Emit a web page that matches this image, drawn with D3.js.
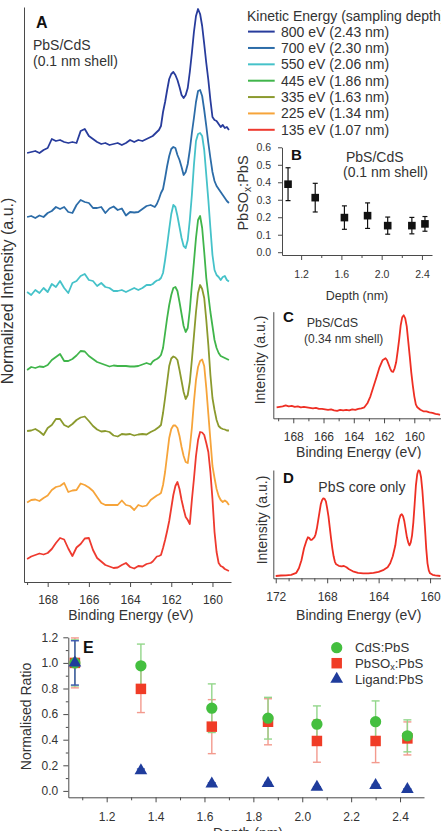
<!DOCTYPE html>
<html><head><meta charset="utf-8">
<script src="https://cdn.jsdelivr.net/npm/d3@7"></script>
<style>
body{margin:0;background:#fff;overflow:hidden}
svg{display:block}
</style></head>
<body><svg id="chart" width="441" height="831"></svg>
<script>
// ---------------- DATA ----------------
// Panel A: binding energy grid (eV) and stacked spectra (offset a.u.)
const bindingEnergyA = [169.0,168.8,168.6,168.4,168.2,168.0,167.8,167.6,167.4,167.2,167.0,166.8,166.6,166.4,166.2,166.0,165.8,165.6,165.4,165.2,165.0,164.8,164.6,164.4,164.2,164.0,163.8,163.6,163.4,163.2,
163.0,162.9,162.8,162.7,162.6,162.5,162.4,162.3,162.2,162.1,162.0,161.9,161.8,161.7,161.6,161.5,161.4,161.3,161.2,161.1,161.0,160.9,160.8,160.7,160.6,160.5,160.4,160.3,160.2,160.1,160.0,159.9,159.8,159.7,159.6,159.5,159.4,159.3,159.2];
const spectrum800 = [42.9,43.0,43.1,42.9,43.2,43.4,44.3,44.1,44.2,44.0,43.9,44.0,43.9,45.1,45.3,44.6,44.3,44.0,43.8,43.9,43.7,43.8,43.9,43.7,43.9,44.2,44.0,44.2,44.1,44.3,
44.5,44.6,44.8,45.0,45.2,45.6,47.0,48.0,49.2,50.3,50.8,51.0,50.7,50.2,49.5,48.7,48.4,48.7,49.4,51.0,52.9,55.0,56.6,57.3,56.8,55.6,53.8,51.9,50.2,48.2,46.5,46.2,46.1,45.8,45.5,45.7,45.4,45.5,45.2];
const spectrum700 = [36.5,36.6,36.4,36.65,36.5,36.9,37.1,37.5,37.3,37.5,37.0,36.9,37.7,38.2,38.0,37.9,37.4,37.4,37.5,36.9,37.35,37.55,37.2,37.35,36.65,37.0,36.95,37.0,37.3,37.6,
37.7,37.6,37.5,37.8,38.3,38.9,39.3,40.4,41.6,42.6,43.3,43.5,43.4,42.7,42.2,41.5,40.7,41.0,41.8,43.2,44.9,46.4,48.0,49.1,49.2,48.6,47.2,45.6,43.9,42.4,41.0,40.1,39.6,39.3,39.0,38.7,38.4,38.1,37.9];
const spectrum550 = [29.0,28.7,29.2,28.9,29.4,29.0,29.8,29.5,30.1,29.4,28.9,29.9,30.1,30.6,30.8,30.2,30.1,29.6,29.9,29.5,29.4,29.1,29.1,29.2,29.0,29.2,29.4,29.2,29.4,29.7,
29.7,29.8,30.0,30.15,30.2,30.4,30.9,32.2,33.7,35.3,36.8,37.7,37.5,36.6,35.5,34.4,33.6,33.4,34.2,36.2,38.7,41.7,44.1,44.8,44.9,44.6,43.2,40.7,38.2,35.4,32.7,31.2,30.7,30.5,30.2,30.5,30.6,30.2,30.05];
const spectrum445 = [21.2,21.5,21.4,21.55,21.5,21.7,22.2,22.5,22.8,22.1,22.1,22.3,22.65,23.1,23.05,22.6,22.3,22.0,21.85,21.7,21.55,21.65,21.6,21.6,21.6,21.55,21.55,21.6,21.75,21.9,
21.75,22.05,22.2,22.3,22.45,22.7,23.4,24.9,26.4,27.7,28.7,29.4,29.5,29.1,28.0,26.8,25.6,25.0,25.4,27.2,29.7,32.0,34.4,36.2,36.6,35.4,33.0,30.4,28.7,27.0,25.6,24.2,23.4,22.9,22.6,22.5,22.4,22.3,22.2];
const spectrum335 = [15.1,15.15,15.3,15.05,14.7,15.4,15.7,16.3,16.3,15.7,15.5,15.8,16.2,16.45,16.55,16.1,15.6,15.25,15.05,15.1,15.0,14.65,14.55,14.8,14.75,14.8,14.65,14.75,14.8,14.75,
15.0,15.1,15.2,15.35,15.5,15.7,16.9,18.4,20.0,21.6,22.35,22.55,22.45,22.2,21.2,20.1,19.0,18.3,18.7,20.0,22.2,24.6,27.0,28.9,29.7,29.3,28.4,26.2,23.7,20.7,18.4,17.2,16.2,15.6,15.4,15.3,15.25,15.15,15.15];
const spectrum225 = [7.95,8.2,8.25,8.1,8.4,8.65,9.2,9.5,9.6,9.9,9.0,9.15,9.2,9.85,9.7,9.45,9.1,8.5,7.9,7.7,7.7,7.7,7.7,8.15,7.7,7.6,7.2,7.7,7.55,7.65,
8.2,8.35,8.5,8.65,8.75,8.9,9.7,11.0,12.7,14.4,15.3,15.65,15.65,15.4,14.6,13.5,12.6,12.0,11.9,13.4,15.4,18.0,20.2,21.5,22.1,22.25,21.6,19.4,16.8,14.2,11.6,10.4,9.3,8.6,8.2,8.0,8.15,8.0,7.7];
const spectrum135 = [2.3,2.55,2.7,2.85,2.75,2.9,3.3,3.9,4.4,4.25,3.35,2.6,3.45,3.8,4.35,4.4,3.2,2.4,2.05,1.7,1.55,1.4,1.45,1.7,1.9,1.5,1.35,1.6,1.55,1.8,
1.9,2.05,2.3,2.55,2.6,2.7,3.4,4.2,5.1,6.1,7.4,8.7,9.6,10.0,9.3,8.2,7.3,6.5,6.2,5.8,8.2,10.3,12.6,14.2,15.0,14.95,14.7,13.9,13.0,11.0,8.3,5.0,3.0,1.9,1.6,1.5,1.3,1.2,1.1];
const legendLabelsA = ["800 eV (2.43 nm)","700 eV (2.30 nm)","550 eV (2.06 nm)","445 eV (1.86 nm)","335 eV (1.63 nm)","225 eV (1.34 nm)","135 eV (1.07 nm)"];
const ticksA = [168,166,164,162,160];
const minorTicksA = [169,167,165,163,161];

// Panel B
const depthB = [1.07,1.34,1.63,1.86,2.06,2.30,2.43];
const ratioB = [0.389,0.312,0.198,0.209,0.152,0.152,0.162];
const errB = [0.094,0.082,0.067,0.073,0.049,0.047,0.042];
const ticksBx = [1.2,1.6,2.0,2.4];
const minorTicksBx = [1.4,1.8,2.2];
const ticksBy = [0,0.1,0.2,0.3,0.4,0.5,0.6];

// Panel C
const bindingEnergyC = [169.1,168.9,168.7,168.5,168.3,168.1,167.9,167.7,167.5,167.3,167.1,166.9,166.7,166.5,166.3,166.1,165.9,165.7,165.5,165.3,165.1,164.9,164.7,164.5,164.3,164.1,163.9,163.7,163.5,163.3,163.1,162.9,162.7,162.5,162.3,162.1,161.9,161.8,161.7,161.6,161.5,161.4,161.3,161.2,161.1,161.0,160.9,160.8,160.7,160.6,160.5,160.4,160.3,160.2,160.1,160.0,159.9,159.8,159.6,159.4,159.2,159.0,158.8,158.6,158.4,158.3];
const intensityC = [11,11.5,12,13,12,12.5,11.5,12,11,11.5,11,10.5,10,10.5,9.5,9.5,9,8.5,9,8,7.5,8.5,8,8.5,8,9,8.5,9.5,10,11,15,22,31.5,41,51,58,60,58,54,50,47,46.5,50,56,67,79,93,101,103,100,92,77,62,46,33,22,14,11,8.5,7,7,6,5.5,4.5,4,3.5];
const ticksC = [168,166,164,162,160];
const minorTicksC = [169,167,165,163,161,159];

// Panel D
const bindingEnergyD = [172.0,171.6,171.2,170.8,170.6,170.4,170.2,170.0,169.8,169.6,169.5,169.4,169.3,169.2,169.0,168.9,168.8,168.7,168.6,168.5,168.4,168.3,168.2,168.1,168.0,167.9,167.8,167.7,167.6,167.5,167.4,167.3,167.1,166.9,166.7,166.5,166.3,166.0,165.6,165.2,164.8,164.4,164.0,163.6,163.3,163.1,162.9,162.7,162.6,162.5,162.4,162.3,162.2,162.1,162.0,161.9,161.8,161.7,161.6,161.5,161.4,161.3,161.2,161.1,161.0,160.9,160.8,160.7,160.6,160.5,160.4,160.3,160.2,160.1,160.0,159.8,159.6,159.2];
const intensityD = [2.3,2.8,3,3.5,4.5,5.5,10,18,30,38,41,40.5,38.5,38.5,41,44,50,58,66,74,78,80,79.5,77,70,62,51,40,30,22,16.5,14,12.5,12,12.3,11,9,7,5.5,5,5,5.5,6.5,8.5,11,15,22,33,43,52,59,63,64,62,57,49,41,36,33,36,43,56,74,93,104,108,107,101,88,70,51,30,15,8,5,3.5,3,2.3];
const ticksD = [172,168,164,160];
const minorTicksD = [171,170,169,167,166,165,163,162,161];

// Panel E
const depthE = [1.07,1.34,1.63,1.86,2.06,2.30,2.43];
const cdsRatio = [1.0,0.977,0.646,0.568,0.521,0.541,0.43];
const cdsErr = [0.18,0.17,0.19,0.163,0.143,0.162,0.125];
const pbsoxRatio = [1.0,0.797,0.502,0.54,0.39,0.39,0.41];
const pbsoxErr = [0.195,0.185,0.211,0.18,0.166,0.169,0.129];
const ligandRatio = [1.0,0.159,0.055,0.06,0.029,0.044,0.013];
const ligandErr = [0.173,0.012,0.008,0.006,0.004,0.006,0.004];
const ticksEx = [1.2,1.4,1.6,1.8,2.0,2.2,2.4];
const minorTicksEx = [1.1,1.3,1.5,1.7,1.9,2.1,2.3];
const ticksEy = [0,0.2,0.4,0.6,0.8,1.0,1.2];
const minorTicksEy = [0.1,0.3,0.5,0.7,0.9,1.1];

// ---------------- STYLE ----------------
const FONT = "'Liberation Sans', Arial, Helvetica, sans-serif";
const AXIS = "#4a4a4a", TXT = "#333";
const spectraColors = ["#283c9c","#2c6ca8","#45c2c9","#40b54b","#8b9a2e","#f6a43a","#ee3a2f"];
const redLine = "#ee2f24";

const svg = d3.select("#chart");
svg.append("rect").attr("width",441).attr("height",831).attr("fill","#fff");

function styleAxis(g, fs){
  g.attr("font-family", FONT).attr("font-size", fs);
  g.select(".domain").attr("stroke", AXIS).attr("stroke-width", 1);
  g.selectAll(".tick line").attr("stroke", AXIS);
  g.selectAll(".tick text").attr("fill", TXT);
  return g;
}
function minor(g){ g.select(".domain").remove(); g.selectAll(".tick line").attr("stroke", AXIS); }
function txt(x, y, s, fs, opts={}){
  const t = svg.append("text").attr("x",x).attr("y",y).attr("font-family",FONT)
    .attr("font-size",fs).attr("fill",TXT).text(s);
  if(opts.bold) t.attr("font-weight","bold").attr("fill","#111");
  if(opts.anchor) t.attr("text-anchor",opts.anchor);
  return t;
}
function rotText(x, y, fs){
  return svg.append("text").attr("transform",`translate(${x},${y}) rotate(-90)`)
    .attr("text-anchor","middle").attr("font-family",FONT).attr("font-size",fs).attr("fill",TXT);
}

// ---------------- PANEL A ----------------
const xA = d3.scaleLinear().domain([169.15,159.1]).range([24,231]);
const yA = d3.scaleLinear().domain([0,57.5]).range([582,7]);
styleAxis(svg.append("g").attr("transform","translate(0,582)")
  .call(d3.axisBottom(xA).tickValues(ticksA).tickSize(5).tickSizeOuter(0).tickPadding(8).tickFormat(d3.format("d"))), 12);
minor(svg.append("g").attr("transform","translate(0,582)")
  .call(d3.axisBottom(xA).tickValues(minorTicksA).tickSize(3).tickFormat("")));
styleAxis(svg.append("g").attr("transform","translate(24,0)")
  .call(d3.axisLeft(yA).tickValues([]).tickSizeOuter(0)), 12);

const spectraA = [spectrum800,spectrum700,spectrum550,spectrum445,spectrum335,spectrum225,spectrum135];
const lineA = d3.line().x((d,i)=>xA(bindingEnergyA[i])).y(d=>yA(d));
spectraA.forEach((s,k)=>{
  svg.append("path").datum(s).attr("d",lineA).attr("fill","none")
    .attr("stroke",spectraColors[k]).attr("stroke-width",1.8).attr("stroke-linejoin","round");
});
txt(36,28,"A",16,{bold:true});
txt(33,49.5,"PbS/CdS",14);
txt(33,65.7,"(0.1 nm shell)",14);
txt(130.8,620,"Binding Energy (eV)",14,{anchor:"middle"});
rotText(13,291,16).text("Normalized Intensity (a.u.)");

// legend
txt(247,20.5,"Kinetic Energy (sampling depth)",14);
const legY = d3.scaleLinear().domain([0,6]).range([31.6,129.8]);
legendLabelsA.forEach((l,k)=>{
  svg.append("line").attr("x1",248).attr("x2",274.7).attr("y1",legY(k)).attr("y2",legY(k))
    .attr("stroke",spectraColors[k]).attr("stroke-width",2);
  txt(281,legY(k)+5,l,14);
});

// ---------------- PANEL B ----------------
const xB = d3.scaleLinear().domain([1.01,2.5]).range([282,432]);
const yB = d3.scaleLinear().domain([-0.016,0.6]).range([255,147.3]);
styleAxis(svg.append("g").attr("transform","translate(0,255)")
  .call(d3.axisBottom(xB).tickValues(ticksBx).tickSize(5).tickSizeOuter(0).tickPadding(11).tickFormat(d3.format(".1f"))), 10.5);
minor(svg.append("g").attr("transform","translate(0,255)")
  .call(d3.axisBottom(xB).tickValues(minorTicksBx).tickSize(3).tickFormat("")));
styleAxis(svg.append("g").attr("transform","translate(282,0)")
  .call(d3.axisLeft(yB).tickValues(ticksBy).tickSize(4).tickSizeOuter(0).tickPadding(7).tickFormat(d3.format(".1f"))), 10.5);
const gB = svg.append("g");
depthB.forEach((d,i)=>{
  const x = xB(d), y1 = yB(ratioB[i]+errB[i]), y0 = yB(ratioB[i]-errB[i]);
  gB.append("line").attr("x1",x).attr("x2",x).attr("y1",y1).attr("y2",y0).attr("stroke","#111").attr("stroke-width",1.2);
  [y0,y1].forEach(yy=>gB.append("line").attr("x1",x-2.5).attr("x2",x+2.5).attr("y1",yy).attr("y2",yy).attr("stroke","#111").attr("stroke-width",1.2));
  gB.append("rect").attr("x",x-3.8).attr("y",yB(ratioB[i])-3.8).attr("width",7.6).attr("height",7.6).attr("fill","#111");
});
txt(291,160,"B",15,{bold:true});
txt(346,161.7,"PbS/CdS",14);
txt(343,177,"(0.1 nm shell)",14);
txt(357,300,"Depth (nm)",12.5,{anchor:"middle"});
const ylB = rotText(248,193,14.5);
ylB.append("tspan").text("PbSO");
ylB.append("tspan").attr("font-size",10).attr("dy",3).text("x");
ylB.append("tspan").attr("dy",-3).text(":PbS");

// ---------------- PANEL C ----------------
const xC = d3.scaleLinear().domain([169.32,158.235]).range([273.3,441]);
const yC = d3.scaleLinear().domain([0,106.6]).range([418.3,311.7]);
styleAxis(svg.append("g").attr("transform","translate(0,418.3)")
  .call(d3.axisBottom(xC).tickValues(ticksC).tickSize(5).tickSizeOuter(0).tickPadding(9).tickFormat(d3.format("d"))), 12);
minor(svg.append("g").attr("transform","translate(0,418.3)")
  .call(d3.axisBottom(xC).tickValues(minorTicksC).tickSize(3).tickFormat("")));
styleAxis(svg.append("g").attr("transform","translate(273.3,0)")
  .call(d3.axisLeft(yC).tickValues([]).tickSizeOuter(0)), 12);
svg.append("path").datum(intensityC)
  .attr("d", d3.line().x((d,i)=>xC(bindingEnergyC[i])).y(d=>yC(d)))
  .attr("fill","none").attr("stroke",redLine).attr("stroke-width",1.8).attr("stroke-linejoin","round");
txt(283,321.7,"C",15,{bold:true});
txt(306.7,327.3,"PbS/CdS",12.5);
txt(304,343.3,"(0.34 nm shell)",12);
svg.append("clipPath").attr("id","clipC").append("rect").attr("x",250).attr("y",420).attr("width",200).attr("height",38.8);
txt(358.7,456.7,"Binding Energy (eV)",14,{anchor:"middle"}).attr("clip-path","url(#clipC)");
rotText(265,360,14).text("Intensity (a.u.)");

// ---------------- PANEL D ----------------
const xD = d3.scaleLinear().domain([172.19,159.15]).range([273.3,441]);
const yD = d3.scaleLinear().domain([0,108.3]).range([578.3,470]);
styleAxis(svg.append("g").attr("transform","translate(0,578.3)")
  .call(d3.axisBottom(xD).tickValues(ticksD).tickSize(5).tickSizeOuter(0).tickPadding(9).tickFormat(d3.format("d"))), 12);
minor(svg.append("g").attr("transform","translate(0,578.3)")
  .call(d3.axisBottom(xD).tickValues(minorTicksD).tickSize(3).tickFormat("")));
styleAxis(svg.append("g").attr("transform","translate(273.3,0)")
  .call(d3.axisLeft(yD).tickValues([]).tickSizeOuter(0)), 12);
svg.append("path").datum(intensityD)
  .attr("d", d3.line().x((d,i)=>xD(bindingEnergyD[i])).y(d=>yD(d)))
  .attr("fill","none").attr("stroke",redLine).attr("stroke-width",1.8).attr("stroke-linejoin","round");
txt(283,483,"D",15,{bold:true});
txt(318.3,491.7,"PbS core only",14);
txt(358.7,620,"Binding Energy (eV)",14,{anchor:"middle"});
rotText(267,520,14).text("Intensity (a.u.)");

// ---------------- PANEL E ----------------
const xE = d3.scaleLinear().domain([1.043,2.498]).range([68.3,424]);
const yE = d3.scaleLinear().domain([-0.05,1.2]).range([797.3,637.3]);
styleAxis(svg.append("g").attr("transform","translate(0,797.3)")
  .call(d3.axisBottom(xE).tickValues(ticksEx).tickSize(5).tickSizeOuter(0).tickPadding(10).tickFormat(d3.format(".1f"))), 12);
minor(svg.append("g").attr("transform","translate(0,797.3)")
  .call(d3.axisBottom(xE).tickValues(minorTicksEx).tickSize(3).tickFormat("")));
styleAxis(svg.append("g").attr("transform","translate(68.3,0)")
  .call(d3.axisLeft(yE).tickValues(ticksEy).tickSize(5).tickSizeOuter(0).tickPadding(5).tickFormat(d3.format(".1f"))), 12);
minor(svg.append("g").attr("transform","translate(68.3,0)")
  .call(d3.axisLeft(yE).tickValues(minorTicksEy).tickSize(2.5).tickFormat("")));

const seriesE = [
  {v:pbsoxRatio, e:pbsoxErr, fill:"#f03c26", err:"#f39a8e", shape:"square"},
  {v:cdsRatio, e:cdsErr, fill:"#44bf3f", err:"#92d68a", shape:"circle"},
  {v:ligandRatio, e:ligandErr, fill:"#1f3c9c", err:"#3b57b2", shape:"triangle"}
];
const gE = svg.append("g");
seriesE.forEach(s=>{
  depthE.forEach((d,i)=>{
    const x = xE(d), y1 = yE(s.v[i]+s.e[i]), y0 = yE(s.v[i]-s.e[i]);
    gE.append("line").attr("x1",x).attr("x2",x).attr("y1",y1).attr("y2",y0).attr("stroke",s.err).attr("stroke-width",1.4);
    [y0,y1].forEach(yy=>gE.append("line").attr("x1",x-4).attr("x2",x+4).attr("y1",yy).attr("y2",yy).attr("stroke",s.err).attr("stroke-width",1.4));
  });
});
const sym = {circle:d3.symbolCircle, square:d3.symbolSquare, triangle:d3.symbolTriangle};
const symSize = {circle:100, square:110, triangle:70};
seriesE.forEach(s=>{
  depthE.forEach((d,i)=>{
    gE.append("path").attr("d", d3.symbol().type(sym[s.shape]).size(symSize[s.shape])())
      .attr("transform",`translate(${xE(d)},${yE(s.v[i])})`).attr("fill",s.fill);
  });
});
txt(83,653,"E",16,{bold:true});
const legE = [{shape:"circle",fill:"#44bf3f",label:"CdS:PbS"},{shape:"square",fill:"#f03c26",label:"PbSO"},{shape:"triangle",fill:"#1f3c9c",label:"Ligand:PbS"}];
const legEy = [647.7,663.2,679];
legE.forEach((l,k)=>{
  svg.append("path").attr("d", d3.symbol().type(sym[l.shape]).size(symSize[l.shape])())
    .attr("transform",`translate(336.7,${legEy[k]})`).attr("fill",l.fill);
  const t = txt(355,legEy[k]+4.7,l.label,13.2);
  if(k===1){
    t.append("tspan").attr("font-size",9).attr("dy",2.5).text("x");
    t.append("tspan").attr("dy",-2.5).text(":PbS");
  }
});
rotText(31,716.5,14).text("Normalised Ratio");
txt(248,838,"Depth (nm)",14,{anchor:"middle"});
</script>
</body></html>
